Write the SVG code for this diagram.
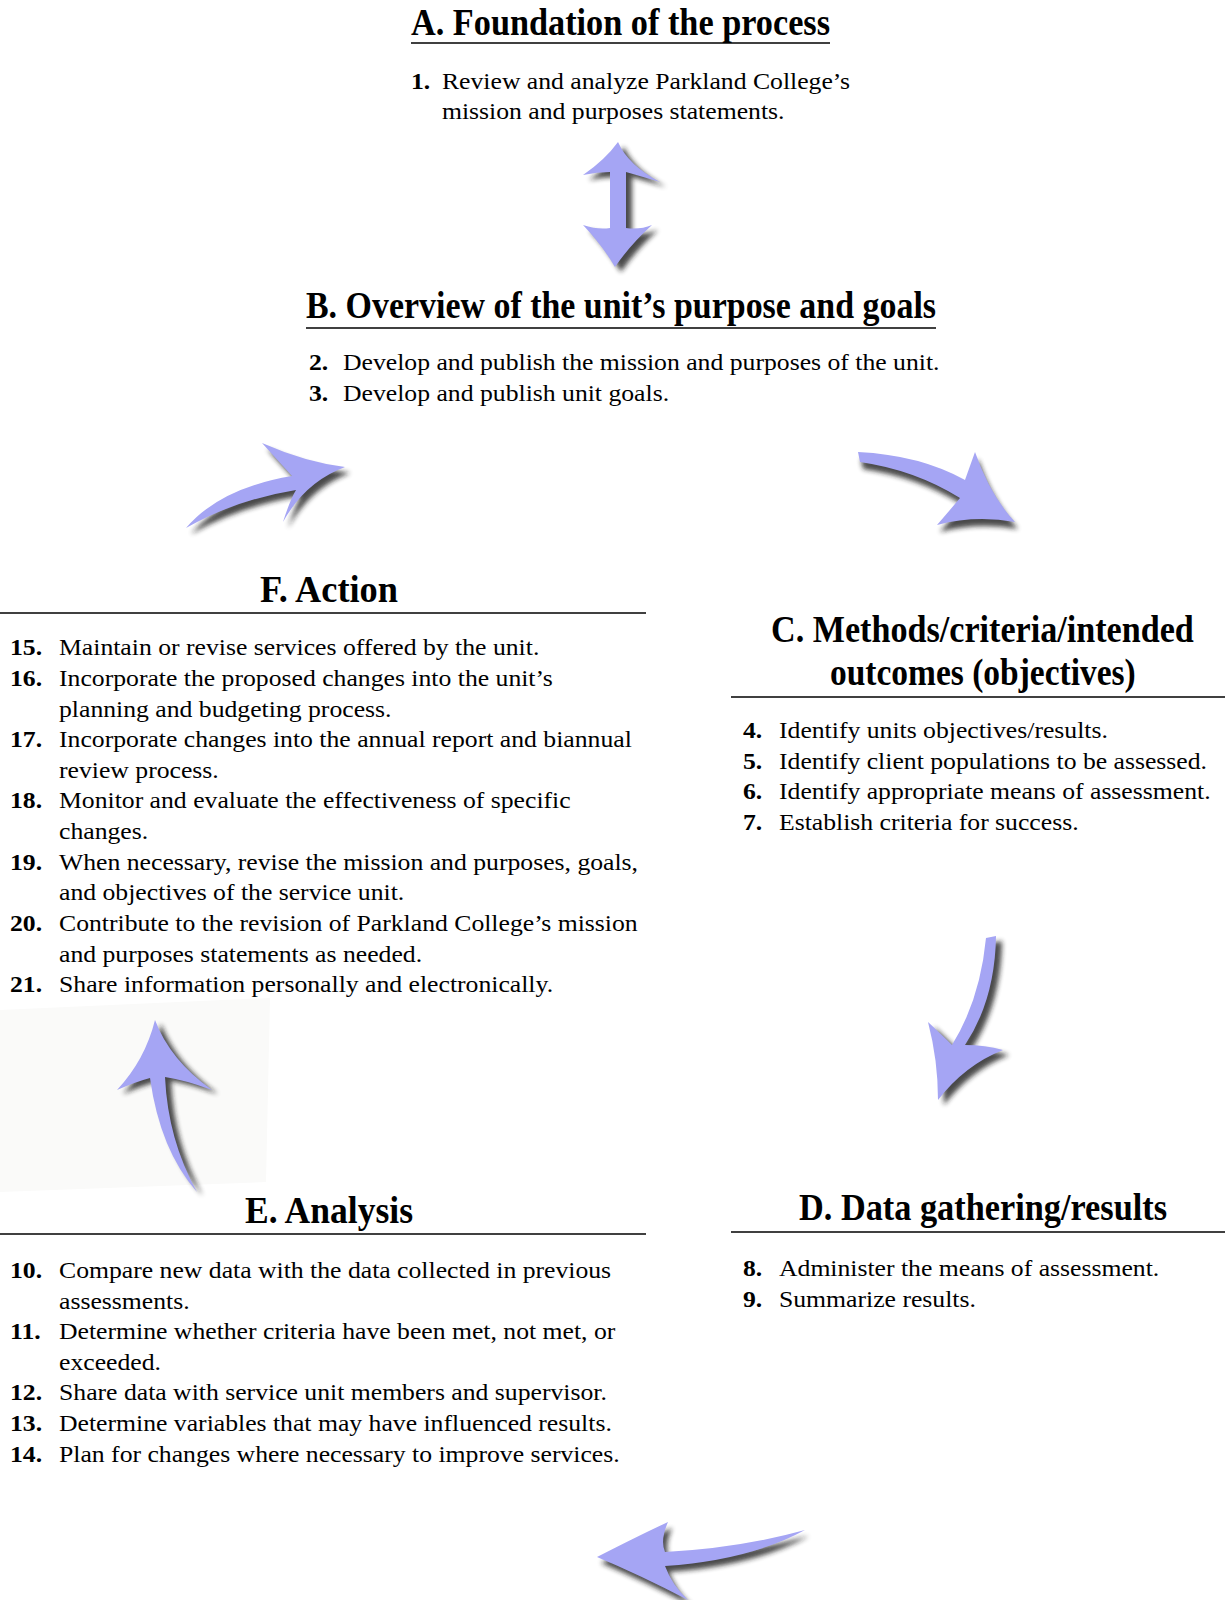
<svg xmlns="http://www.w3.org/2000/svg" width="1225" height="1600" viewBox="0 0 1225 1600">
<defs>
<filter id="blur" x="-20%" y="-20%" width="140%" height="140%"><feGaussianBlur stdDeviation="2.4"/></filter>
<style>
.h{font-family:"Liberation Serif","Times New Roman",serif;font-weight:bold;font-size:38px;fill:#000}
.t{font-family:"Liberation Serif","Times New Roman",serif;font-size:23.5px;fill:#000}
.n{font-weight:bold}
.ul{stroke:#000;stroke-width:1.6}
.arr{fill:#a5a5f4}
.sh{fill:#1a1a1a;filter:url(#blur);opacity:0.8}
</style>
</defs>
<rect width="1225" height="1600" fill="#fff"/>
<polygon points="0,1010 270,998 266,1182 0,1192" fill="#fafaf9"/>

<g id="nodeA">
<text class="h" x="411" y="35" textLength="419" lengthAdjust="spacingAndGlyphs">A. Foundation of the process</text>
<line class="ul" x1="411" y1="43" x2="830" y2="43"/>
<g transform="matrix(1.094,0,0,1,-38.63,0)">
<text class="t" y="89"><tspan class="n" x="411">1.</tspan><tspan x="439.3">Review and analyze Parkland College’s</tspan></text>
<text class="t" x="439.3" y="119">mission and purposes statements.</text>
</g>
</g>

<g id="nodeB">
<text class="h" x="306" y="318" textLength="630" lengthAdjust="spacingAndGlyphs">B. Overview of the unit’s purpose and goals</text>
<line class="ul" x1="306" y1="328" x2="936" y2="328"/>
<g transform="matrix(1.094,0,0,1,-29.05,0)">
<text class="t" y="370"><tspan class="n" x="309">2.</tspan><tspan x="340.1">Develop and publish the mission and purposes of the unit.</tspan></text>
<text class="t" y="401"><tspan class="n" x="309">3.</tspan><tspan x="340.1">Develop and publish unit goals.</tspan></text>
</g>
</g>

<g id="nodeC">
<text class="h" transform="translate(771,642) scale(0.8987,1)" x="0" y="0">C. Methods/criteria/intended</text>
<text class="h" transform="translate(830,685) scale(0.881,1)" x="0" y="0">outcomes (objectives)</text>
<line class="ul" x1="731" y1="697" x2="1225" y2="697"/>
<g transform="matrix(1.094,0,0,1,-69.84,0)">
<text class="t" y="738"><tspan class="n" x="743">4.</tspan><tspan x="775.9">Identify units objectives/results.</tspan></text>
<text class="t" y="769"><tspan class="n" x="743">5.</tspan><tspan x="775.9">Identify client populations to be assessed.</tspan></text>
<text class="t" y="799"><tspan class="n" x="743">6.</tspan><tspan x="775.9">Identify appropriate means of assessment.</tspan></text>
<text class="t" y="830"><tspan class="n" x="743">7.</tspan><tspan x="775.9">Establish criteria for success.</tspan></text>
</g>
</g>

<g id="nodeD">
<text class="h" x="799" y="1220" textLength="368" lengthAdjust="spacingAndGlyphs">D. Data gathering/results</text>
<line class="ul" x1="731" y1="1232" x2="1225" y2="1232"/>
<g transform="matrix(1.094,0,0,1,-69.84,0)">
<text class="t" y="1276"><tspan class="n" x="743">8.</tspan><tspan x="775.9">Administer the means of assessment.</tspan></text>
<text class="t" y="1307"><tspan class="n" x="743">9.</tspan><tspan x="775.9">Summarize results.</tspan></text>
</g>
</g>

<g id="nodeE">
<text class="h" x="245" y="1223" textLength="168" lengthAdjust="spacingAndGlyphs">E. Analysis</text>
<line class="ul" x1="0" y1="1234" x2="646" y2="1234"/>
<g transform="matrix(1.094,0,0,1,-0.94,0)">
<text class="t" y="1278"><tspan class="n" x="10">10.</tspan><tspan x="54.8">Compare new data with the data collected in previous</tspan></text>
<text class="t" x="54.8" y="1309">assessments.</text>
<text class="t" y="1339"><tspan class="n" x="10">11.</tspan><tspan x="54.8">Determine whether criteria have been met, not met, or</tspan></text>
<text class="t" x="54.8" y="1370">exceeded.</text>
<text class="t" y="1400"><tspan class="n" x="10">12.</tspan><tspan x="54.8">Share data with service unit members and supervisor.</tspan></text>
<text class="t" y="1431"><tspan class="n" x="10">13.</tspan><tspan x="54.8">Determine variables that may have influenced results.</tspan></text>
<text class="t" y="1462"><tspan class="n" x="10">14.</tspan><tspan x="54.8">Plan for changes where necessary to improve services.</tspan></text>
</g>
</g>

<g id="nodeF">
<text class="h" x="260" y="602" textLength="138" lengthAdjust="spacingAndGlyphs">F. Action</text>
<line class="ul" x1="0" y1="613" x2="646" y2="613"/>
<g transform="matrix(1.094,0,0,1,-0.94,0)">
<text class="t" y="655"><tspan class="n" x="10">15.</tspan><tspan x="54.8">Maintain or revise services offered by the unit.</tspan></text>
<text class="t" y="686"><tspan class="n" x="10">16.</tspan><tspan x="54.8">Incorporate the proposed changes into the unit’s</tspan></text>
<text class="t" x="54.8" y="717">planning and budgeting process.</text>
<text class="t" y="747"><tspan class="n" x="10">17.</tspan><tspan x="54.8">Incorporate changes into the annual report and biannual</tspan></text>
<text class="t" x="54.8" y="778">review process.</text>
<text class="t" y="808"><tspan class="n" x="10">18.</tspan><tspan x="54.8">Monitor and evaluate the effectiveness of specific</tspan></text>
<text class="t" x="54.8" y="839">changes.</text>
<text class="t" y="870"><tspan class="n" x="10">19.</tspan><tspan x="54.8">When necessary, revise the mission and purposes, goals,</tspan></text>
<text class="t" x="54.8" y="900">and objectives of the service unit.</text>
<text class="t" y="931"><tspan class="n" x="10">20.</tspan><tspan x="54.8">Contribute to the revision of Parkland College’s mission</tspan></text>
<text class="t" x="54.8" y="962">and purposes statements as needed.</text>
<text class="t" y="992"><tspan class="n" x="10">21.</tspan><tspan x="54.8">Share information personally and electronically.</tspan></text>
</g>
</g>

<g id="connectors">
<g id="arrowAB">
<path class="sh" transform="translate(6,5)" d="M618,142 Q628,165 660,182 Q640,176 626,172 L626,228 Q640,230 652,225 Q630,245 615,267 Q602,245 583,225 Q598,230 610,228 L610,172 Q597,172 583,175 Q605,160 618,142 Z"/>
<path class="arr" d="M618,142 Q628,165 660,182 Q640,176 626,172 L626,228 Q640,230 652,225 Q630,245 615,267 Q602,245 583,225 Q598,230 610,228 L610,172 Q597,172 583,175 Q605,160 618,142 Z"/>
</g>
<g id="arrowFB">
<path class="sh" transform="translate(5,6)" d="M186,528 Q220,488 292,476 L262,443 Q305,462 345,467 Q305,482 283,522 Q290,500 296,490 Q235,500 186,528 Z"/>
<path class="arr" d="M186,528 Q220,488 292,476 L262,443 Q305,462 345,467 Q305,482 283,522 Q290,500 296,490 Q235,500 186,528 Z"/>
</g>
<g id="arrowBC">
<path class="sh" transform="translate(3,7)" d="M858,452 Q920,455 965,480 L975,452 Q990,495 1015,522 Q975,515 937,525 Q950,510 960,498 Q915,470 860,462 Z"/>
<path class="arr" d="M858,452 Q920,455 965,480 L975,452 Q990,495 1015,522 Q975,515 937,525 Q950,510 960,498 Q915,470 860,462 Z"/>
</g>
<g id="arrowCD">
<path class="sh" transform="translate(6,5)" d="M996,936 Q995,1000 965,1045 Q985,1045 1003,1050 Q965,1065 938,1100 Q938,1060 928,1022 Q942,1035 952,1045 Q980,1000 986,938 Z"/>
<path class="arr" d="M996,936 Q995,1000 965,1045 Q985,1045 1003,1050 Q965,1065 938,1100 Q938,1060 928,1022 Q942,1035 952,1045 Q980,1000 986,938 Z"/>
</g>
<g id="arrowEF">
<path class="sh" transform="translate(6,4)" d="M155,1020 Q170,1060 212,1090 Q185,1080 165,1077 Q168,1140 197,1192 Q160,1150 150,1078 Q135,1082 117,1090 Q145,1060 155,1020 Z"/>
<path class="arr" d="M155,1020 Q170,1060 212,1090 Q185,1080 165,1077 Q168,1140 197,1192 Q160,1150 150,1078 Q135,1082 117,1090 Q145,1060 155,1020 Z"/>
</g>
<g id="arrowDE">
<path class="sh" transform="translate(4,6)" d="M597,1557 Q640,1535 668,1522 Q660,1540 665,1552 Q740,1548 805,1530 Q750,1560 665,1566 Q672,1585 688,1600 Q640,1575 597,1557 Z"/>
<path class="arr" d="M597,1557 Q640,1535 668,1522 Q660,1540 665,1552 Q740,1548 805,1530 Q750,1560 665,1566 Q672,1585 688,1600 Q640,1575 597,1557 Z"/>
</g>
</g>
</svg>
